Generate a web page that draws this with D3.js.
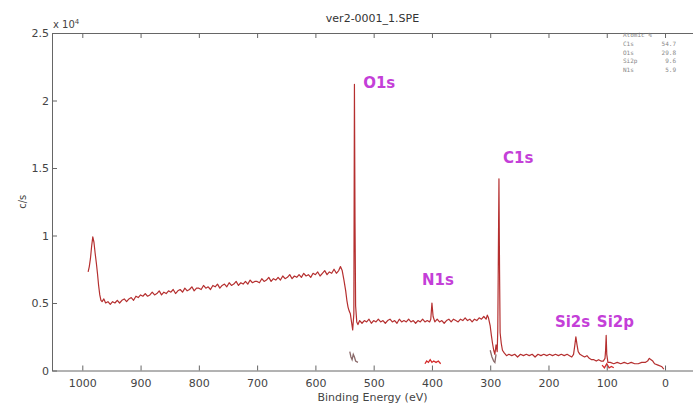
<!DOCTYPE html>
<html>
<head>
<meta charset="utf-8">
<script src="https://cdn.jsdelivr.net/npm/d3@7/dist/d3.min.js"></script>
<style>
  body { margin: 0; background: #fff; }
  svg { display: block; }
</style>
</head>
<body>
<svg id="chart" width="693" height="407"></svg>
<script>
// survey spectrum, [binding energy (eV), counts (x 10^4 c/s)]
var survey = [
  [990, 0.73], [988, 0.77], [986, 0.83], [984, 0.92], [982, 0.99], [980, 0.95], [978, 0.87],
  [976, 0.80], [974, 0.72], [972, 0.63], [970, 0.56], [968, 0.52], [966, 0.51], [963, 0.53],
  [960, 0.50], [956, 0.51], [952, 0.49], [948, 0.51], [944, 0.50], [940, 0.52], [936, 0.50],
  [932, 0.52], [928, 0.53], [924, 0.51], [920, 0.53], [916, 0.54], [912, 0.52], [908, 0.55],
  [904, 0.54], [900, 0.56], [896, 0.55], [892, 0.57], [888, 0.55], [884, 0.56], [880, 0.58],
  [876, 0.56], [872, 0.57], [868, 0.59], [864, 0.56], [860, 0.58], [856, 0.57], [852, 0.59],
  [848, 0.58], [844, 0.60], [840, 0.57], [836, 0.59], [832, 0.60], [828, 0.58], [824, 0.61],
  [820, 0.59], [816, 0.60], [812, 0.62], [808, 0.59], [804, 0.61], [800, 0.61], [796, 0.60],
  [792, 0.63], [788, 0.61], [784, 0.62], [780, 0.60], [776, 0.63], [772, 0.62], [768, 0.64],
  [764, 0.61], [760, 0.63], [756, 0.64], [752, 0.62], [748, 0.65], [744, 0.63], [740, 0.64],
  [736, 0.66], [732, 0.63], [728, 0.65], [724, 0.64], [720, 0.66], [716, 0.64], [712, 0.67],
  [708, 0.65], [704, 0.66], [700, 0.66], [696, 0.65], [692, 0.68], [688, 0.66], [684, 0.67],
  [680, 0.69], [676, 0.66], [672, 0.68], [668, 0.67], [664, 0.69], [660, 0.67], [656, 0.70],
  [652, 0.68], [648, 0.69], [644, 0.71], [640, 0.68], [636, 0.70], [632, 0.69], [628, 0.71],
  [624, 0.69], [620, 0.72], [616, 0.70], [612, 0.71], [608, 0.69], [604, 0.72], [600, 0.71],
  [596, 0.73], [592, 0.70], [588, 0.72], [584, 0.74], [580, 0.71], [576, 0.73], [572, 0.72],
  [568, 0.75], [564, 0.72], [560, 0.74], [557, 0.77], [554, 0.74], [551, 0.67], [548, 0.59],
  [546, 0.52], [544, 0.47], [542, 0.44], [540, 0.42], [538, 0.36], [536, 0.30], [534, 0.42],
  [533, 2.12], [532, 1.10], [531, 0.48], [529, 0.36], [527, 0.34], [524, 0.37], [520, 0.35],
  [516, 0.37], [512, 0.36], [508, 0.38], [504, 0.35], [500, 0.37], [496, 0.36], [492, 0.38],
  [488, 0.36], [484, 0.37], [480, 0.35], [476, 0.37], [472, 0.38], [468, 0.36], [464, 0.37],
  [460, 0.35], [456, 0.38], [452, 0.36], [448, 0.37], [444, 0.36], [440, 0.38], [436, 0.36],
  [432, 0.37], [428, 0.35], [424, 0.37], [420, 0.36], [416, 0.38], [412, 0.36], [408, 0.37],
  [404, 0.36], [402, 0.38], [400, 0.50], [398, 0.40], [395, 0.36], [391, 0.38], [387, 0.36],
  [383, 0.37], [379, 0.35], [375, 0.37], [371, 0.38], [367, 0.36], [363, 0.38], [359, 0.37],
  [355, 0.36], [351, 0.38], [347, 0.37], [343, 0.39], [339, 0.37], [335, 0.38], [331, 0.36],
  [327, 0.38], [323, 0.37], [319, 0.39], [315, 0.38], [311, 0.40], [307, 0.38], [305, 0.41],
  [303, 0.39], [300, 0.33], [298, 0.26], [296, 0.20], [294, 0.15], [292, 0.12], [290, 0.19],
  [288, 0.14], [287, 0.30], [285, 1.42], [284, 0.75], [283, 0.28], [281, 0.20], [279, 0.15],
  [276, 0.13], [272, 0.11], [268, 0.12], [263, 0.11], [258, 0.12], [253, 0.10], [248, 0.12],
  [243, 0.11], [238, 0.12], [233, 0.11], [228, 0.12], [223, 0.10], [218, 0.12], [213, 0.11],
  [208, 0.12], [203, 0.11], [198, 0.12], [193, 0.11], [188, 0.12], [183, 0.11], [178, 0.12],
  [173, 0.11], [168, 0.12], [164, 0.11], [160, 0.10], [157, 0.12], [155, 0.18], [153, 0.25],
  [151, 0.19], [149, 0.14], [146, 0.12], [142, 0.11], [138, 0.10], [134, 0.11], [130, 0.09],
  [126, 0.08], [122, 0.08], [118, 0.07], [114, 0.08], [110, 0.07], [106, 0.07], [103, 0.09],
  [102, 0.15], [101, 0.26], [100, 0.12], [98, 0.06], [94, 0.06], [88, 0.05], [82, 0.06],
  [76, 0.05], [70, 0.06], [64, 0.05], [58, 0.06], [52, 0.05], [46, 0.05], [40, 0.06],
  [34, 0.06], [30, 0.07], [27, 0.09], [24, 0.08], [21, 0.07], [18, 0.05], [12, 0.04],
  [6, 0.03], [2, 0.01]
];

// short traces close to the baseline
var baselinePieces = [
  [[541, 0.14], [539, 0.10], [537, 0.08], [535, 0.12], [533, 0.10], [531, 0.07], [527, 0.06]],
  [[412, 0.05], [409, 0.07], [406, 0.06], [403, 0.08], [400, 0.06], [397, 0.07], [393, 0.06], [389, 0.07], [385, 0.05]],
  [[300, 0.15], [297, 0.10], [294, 0.07], [292, 0.06], [290, 0.12]],
  [[108, 0.04], [104, 0.02], [100, 0.05], [96, 0.02], [92, 0.03], [88, 0.02]]
];

var peakNames = ["O1s", "N1s", "C1s", "Si2s", "Si2p"];
var peakLabelBE = [518, 417, 278, 189, 117];
var peakLabelCps = [2.09, 0.63, 1.54, 0.32, 0.32];

var xTicks = [1000, 900, 800, 700, 600, 500, 400, 300, 200, 100, 0];
var yTicks = [0, 0.5, 1, 1.5, 2, 2.5];

var quantNames = ["C1s", "O1s", "Si2p", "N1s"];
var quantValues = [54.7, 29.8, 9.6, 5.9];

var svg = d3.select("#chart"),
    plotLeft = 52, plotRight = 693, plotTop = 33, plotBottom = 370.5;

var x = d3.scaleLinear().domain([1052, -48]).range([plotLeft, plotRight]);
var y = d3.scaleLinear().domain([0, 2.5]).range([plotBottom, plotTop]);

svg.append("defs").append("clipPath").attr("id", "plot")
    .append("rect")
    .attr("x", plotLeft).attr("y", plotTop)
    .attr("width", plotRight - plotLeft).attr("height", plotBottom - plotTop);

var line = d3.line()
    .x(function (d) { return x(d[0]); })
    .y(function (d) { return y(d[1]); });

var plot = svg.append("g").attr("clip-path", "url(#plot)");

plot.selectAll("path.piece")
    .data(baselinePieces)
    .enter().append("path")
    .attr("class", "piece")
    .attr("d", line)
    .style("fill", "none")
    .style("stroke", function (d, i) { return i % 2 ? "#d42a2a" : "#8a6a6a"; })
    .style("stroke-width", 1.3);

plot.append("path")
    .datum(survey)
    .attr("d", line)
    .style("fill", "none")
    .style("stroke", "#b52f2f")
    .style("stroke-width", 1.2)
    .style("stroke-linejoin", "round");

// frame and axes
var axisColor = "#666";

svg.append("g")
    .attr("transform", "translate(0," + plotBottom + ")")
    .call(d3.axisBottom(x).tickValues(xTicks).tickSizeInner(-5).tickSizeOuter(0).tickPadding(9)
        .tickFormat(function (d) { return d; }))
    .call(function (g) {
        g.select(".domain").attr("stroke", axisColor);
        g.selectAll(".tick line").attr("stroke", axisColor);
        g.selectAll("text").style("font-family", "DejaVu Sans").style("font-size", "11px").attr("fill", "#444");
    });

svg.append("g")
    .attr("transform", "translate(0," + plotTop + ")")
    .call(d3.axisTop(x).tickValues(xTicks).tickSizeInner(-5).tickSizeOuter(0).tickFormat(""))
    .call(function (g) {
        g.select(".domain").attr("stroke", axisColor);
        g.selectAll(".tick line").attr("stroke", axisColor);
    });

svg.append("g")
    .attr("transform", "translate(" + plotLeft + ",0)")
    .call(d3.axisLeft(y).tickValues(yTicks).tickSizeInner(-5).tickSizeOuter(0).tickPadding(3)
        .tickFormat(function (d) { return d; }))
    .call(function (g) {
        g.select(".domain").attr("stroke", axisColor);
        g.selectAll(".tick line").attr("stroke", axisColor);
        g.selectAll("text").style("font-family", "DejaVu Sans").style("font-size", "11px").attr("fill", "#444");
    });

// titles
var textFont = "DejaVu Sans";

svg.append("text")
    .attr("x", (plotLeft + plotRight) / 2).attr("y", 22)
    .attr("text-anchor", "middle")
    .style("font-family", textFont).style("font-size", "11px").attr("fill", "#333")
    .text("ver2-0001_1.SPE");

svg.append("text")
    .attr("x", (plotLeft + plotRight) / 2).attr("y", 401)
    .attr("text-anchor", "middle")
    .style("font-family", textFont).style("font-size", "11px").attr("fill", "#444")
    .text("Binding Energy (eV)");

svg.append("text")
    .attr("transform", "translate(26," + ((plotTop + plotBottom) / 2) + ") rotate(-90)")
    .attr("text-anchor", "middle")
    .style("font-family", textFont).style("font-size", "10px").attr("fill", "#444")
    .text("c/s");

var expo = svg.append("text")
    .attr("x", 53).attr("y", 28)
    .style("font-family", textFont).style("font-size", "10px").attr("fill", "#444");
expo.append("tspan").text("x 10");
expo.append("tspan").attr("dy", -4).style("font-size", "7px").text("4");

// peak labels
svg.selectAll("text.peak")
    .data(peakNames)
    .enter().append("text")
    .attr("class", "peak")
    .attr("x", function (d, i) { return x(peakLabelBE[i]); })
    .attr("y", function (d, i) { return y(peakLabelCps[i]); })
    .style("font-family", textFont).style("font-size", "15px").style("font-weight", "bold")
    .attr("fill", "#c43fd8")
    .text(function (d) { return d; });

// atomic % table
var table = svg.append("g")
    .style("font-family", "DejaVu Sans Mono").style("font-size", "6px").attr("fill", "#888");

table.append("text").attr("x", 623).attr("y", 37).text("Atomic %");

table.selectAll("text.qn")
    .data(quantNames)
    .enter().append("text")
    .attr("class", "qn")
    .attr("x", 623)
    .attr("y", function (d, i) { return 46 + i * 8.5; })
    .text(function (d) { return d; });

table.selectAll("text.qv")
    .data(quantValues)
    .enter().append("text")
    .attr("class", "qv")
    .attr("x", 676)
    .attr("y", function (d, i) { return 46 + i * 8.5; })
    .attr("text-anchor", "end")
    .text(function (d) { return d.toFixed(1); });
</script>
</body>
</html>
